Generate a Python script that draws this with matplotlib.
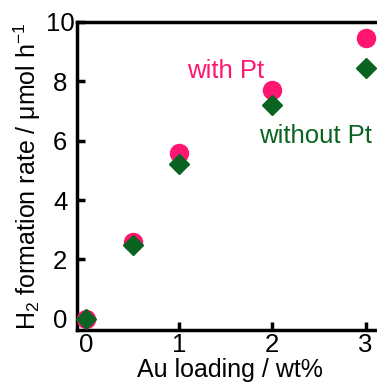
import matplotlib
matplotlib.use("Agg")
from matplotlib import pyplot as plt

plt.rcParams['font.family'] = ['Liberation Sans', 'DejaVu Sans']
plt.rcParams['mathtext.fontset'] = 'custom'
plt.rcParams['mathtext.rm'] = 'Liberation Sans'

# Au loading (wt%)
au_loading = [0, 0.5, 1, 2, 3]
# H2 formation rate (umol/h)
with_pt = [0.0, 2.6, 5.6, 7.7, 9.45]
without_pt = [0.0, 2.5, 5.2, 7.2, 8.45]

pink = '#ff1670'
green = '#0b6321'

fig = plt.figure(figsize=(3.77, 3.83), dpi=100)
ax = fig.add_axes([0.204, 0.138, 0.81, 0.805])

ax.plot(au_loading, with_pt, 'o', color=pink, markersize=13, zorder=3, clip_on=False)
ax.plot(au_loading, without_pt, 'D', color=green, markersize=10, zorder=4, clip_on=False)

ax.text(1.08, 8.35, 'with Pt', color=pink, fontsize=18.5, va='center')
ax.text(1.86, 6.15, 'without Pt', color=green, fontsize=18.5, va='center')

ax.set_xlim(-0.097, 3.18)
ax.set_ylim(-0.38, 10)
ax.set_xticks([0, 1, 2, 3])
ax.set_yticks([0, 2, 4, 6, 8, 10])

for s in ax.spines.values():
    s.set_linewidth(2.5)
ax.spines['right'].set_visible(False)

ax.tick_params(direction='in', width=2.5, length=6, labelsize=18.5)
ax.tick_params(axis='x', pad=2)
ax.tick_params(axis='y', pad=12)
for lab in ax.get_yticklabels():
    lab.set_horizontalalignment('center')

ax.set_xlabel('Au loading / wt%', fontsize=18, labelpad=1)
ax.set_ylabel('H$_2$ formation rate / \u03bcmol h$^{-1}$', fontsize=18, labelpad=2)

fig.savefig('out.png', dpi=100)
